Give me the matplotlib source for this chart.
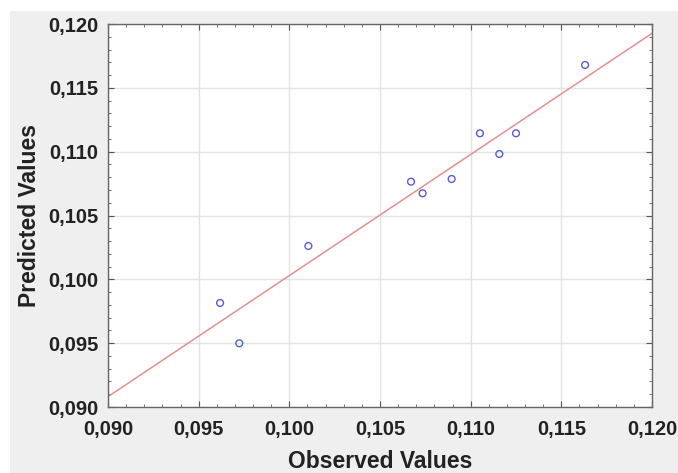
import matplotlib
matplotlib.use("Agg")
import matplotlib.pyplot as plt
from matplotlib.patches import Rectangle
from matplotlib.ticker import MultipleLocator, FuncFormatter
import numpy as np

observed = [0.09618, 0.09724, 0.10105, 0.10671, 0.10735, 0.10895,
            0.11051, 0.11158, 0.11250, 0.11631]
predicted = [0.09815, 0.09499, 0.10261, 0.10765, 0.10674, 0.10786,
             0.11144, 0.10982, 0.11144, 0.11679]
fit_intercept = 0.09081   # predicted value at observed = 0.090
fit_slope = 0.9487

plt.rcParams['font.family'] = ['Liberation Sans', 'DejaVu Sans']

fig = plt.figure(figsize=(6.78, 4.73), dpi=100, facecolor='white')
# grey panel behind the plot
fig.patches.append(Rectangle((10 / 678, 0), 1 - 10 / 678, 1 - 11 / 473,
                             transform=fig.transFigure, facecolor='#efefef',
                             edgecolor='none', zorder=-10))

ax = fig.add_axes([108 / 678, 1 - 407 / 473, (652 - 108) / 678, (407 - 24) / 473])
ax.set_facecolor('white')

ax.set_xlim(0.090, 0.120)
ax.set_ylim(0.090, 0.120)

xs = np.array([0.090, 0.120])
ax.plot(xs, fit_intercept + fit_slope * (xs - 0.090), color='#e39090', lw=1.1, zorder=2)
ax.scatter(observed, predicted, s=24, facecolors='none', edgecolors='#5a5ad6',
           linewidths=1.0, zorder=3)

fmt = FuncFormatter(lambda v, p: f"{v:.3f}".replace('.', ','))
for axis in (ax.xaxis, ax.yaxis):
    axis.set_major_locator(MultipleLocator(0.005))
    axis.set_minor_locator(MultipleLocator(0.001))
    axis.set_major_formatter(fmt)

ax.grid(True, which='major', color='#e4e4e4', lw=1.0)
ax.set_axisbelow(True)
ax.tick_params(which='both', direction='in', top=True, right=True, color='#555555')
ax.tick_params(which='major', length=4, labelsize=14.5)
ax.tick_params(which='minor', length=2)
ax.tick_params(axis='x', which='major', pad=9)
ax.tick_params(axis='y', which='major', pad=7)
for lbl in ax.get_xticklabels() + ax.get_yticklabels():
    lbl.set_fontweight('bold')
    lbl.set_color('#222222')
for sp in ax.spines.values():
    sp.set_color('#666666')
    sp.set_linewidth(1.0)

ax.set_xlabel('Observed Values', fontsize=16.5, fontweight='bold', color='#222222', labelpad=8)
ax.set_ylabel('Predicted Values', fontsize=16.5, fontweight='bold', color='#222222', labelpad=5)

fig.savefig('out.png', dpi=100, facecolor=fig.get_facecolor())
